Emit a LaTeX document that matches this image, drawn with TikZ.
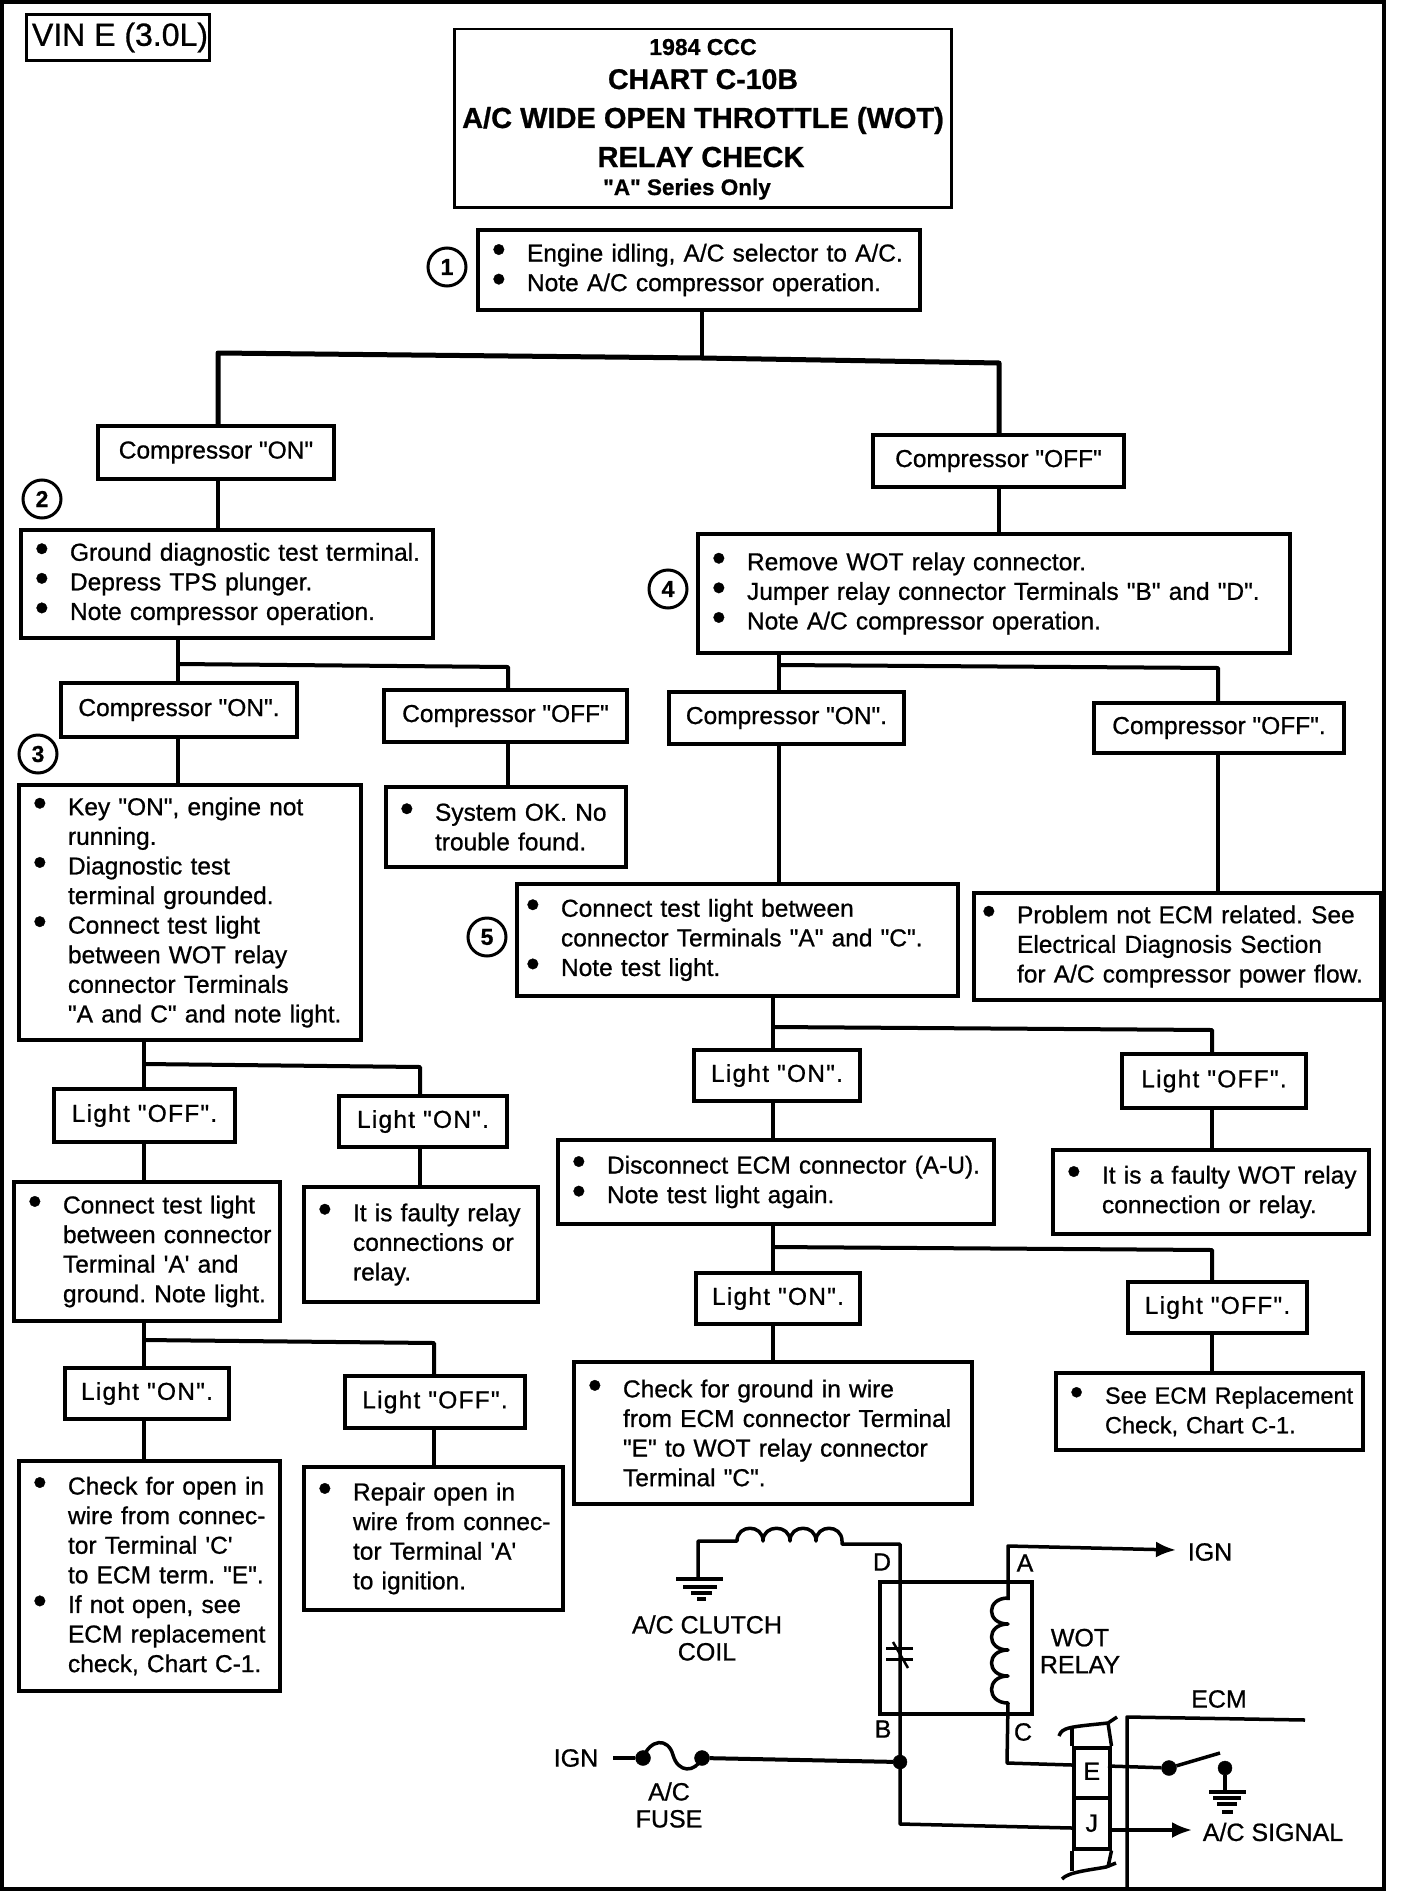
\documentclass[tikz,border=0pt]{standalone}
\usepackage{fontspec}
\setmainfont[FakeBold=0.8,Ligatures=TeXOff]{Liberation Sans}
\usetikzlibrary{arrows.meta}

\newlength{\padl}
\setlength{\padl}{16pt}
\newcommand{\bul}{\hspace*{\padl}\makebox[33pt][l]{\hspace*{-2pt}\raisebox{-1pt}{\scalebox{1.6}{\textbullet}}}}
\newcommand{\cont}{\hspace*{\dimexpr\padl+33pt\relax}}

\tikzset{
chartbox/.style={draw,line width=4pt,anchor=north west,inner sep=0pt,align=left,font=\fontsize{24.5}{29.6}\selectfont\frenchspacing},
tagbox/.style={draw,line width=4pt,anchor=north west,inner sep=0pt,align=center,font=\fontsize{24.5}{30}\selectfont},
lighttag/.style={tagbox,font=\fontsize{24.5}{30}\selectfont\addfontfeature{LetterSpace=5}},
marker/.style={draw,circle,line width=3pt,inner sep=0pt,minimum size=38pt,font=\bfseries\fontsize{23}{23}\selectfont},
titleline/.style={anchor=base,inner sep=0pt,font=\bfseries\fontsize{29}{29}\selectfont},
link/.style={line width=4pt,line cap=round,line join=round},
wire/.style={line width=3.5pt,line join=round},
cirtext/.style={inner sep=0pt,align=center,font=\fontsize{25}{27}\selectfont},
dot/.style={draw,fill=black,circle,inner sep=0pt,minimum size=15pt},
cell/.style={draw,line width=3.5pt,anchor=north west,inner sep=0pt,minimum width=36pt,font=\fontsize{25}{25}\selectfont}
}

\begin{document}
\begin{tikzpicture}[x=1pt,y=-1pt]
\useasboundingbox (0,0) rectangle (1408,1900);

% outer frame
\draw[line width=4.5pt] (2,1.5) rectangle (1384,1889);

\node[draw,line width=3pt,anchor=north west,inner sep=0pt,minimum width=183pt,minimum height=46pt,font=\fontsize{32}{32}\selectfont] (vin) at (25,13) {\hspace*{4pt}VIN E (3.0L)};

% title
\node[draw,line width=2.5pt,anchor=north west,inner sep=0pt,minimum width=497pt,minimum height=178pt] (title) at (453,28) {};
\node[titleline,font=\bfseries\fontsize{23}{23}\selectfont] (title1) at (703,55) {1984 CCC};
\node[titleline,font=\bfseries\fontsize{28.5}{29}\selectfont] (title2) at (703,89) {CHART C-10B};
\node[titleline] (title3) at (703,128) {A/C WIDE OPEN THROTTLE (WOT)};
\node[titleline] (title4) at (701,167) {RELAY CHECK};
\node[titleline,font=\bfseries\fontsize{22.5}{23}\selectfont] (title5) at (687,195) {"A" Series Only};

% boxes, top to bottom
\node[chartbox,text width=442pt,minimum height=80pt] (start) at (476,228) {\bul Engine idling, A/C selector to A/C.\\\bul Note A/C compressor operation.};
\node[marker] (m1) at (447,267) {1};

\node[tagbox,minimum width=236pt,minimum height=53pt] (cleft) at (96,424) {Compressor "ON"};
\node[tagbox,minimum width=251pt,minimum height=52pt] (cright) at (871,433) {Compressor "OFF"};

\node[marker] (m2) at (42,499) {2};
\node[chartbox,text width=412pt,minimum height=108pt] (ground) at (19,528) {\bul Ground diagnostic test terminal.\\\bul Depress TPS plunger.\\\bul Note compressor operation.};
\node[marker] (m4) at (668,589) {4};
\node[chartbox,text width=592pt,minimum height=119pt] (jumper) at (696,532) {\bul Remove WOT relay connector.\\\bul Jumper relay connector Terminals "B" and "D".\\\bul Note A/C compressor operation.};

\node[tagbox,minimum width=236pt,minimum height=54pt] (gon) at (59,681) {Compressor "ON".};
\node[tagbox,minimum width=243pt,minimum height=52pt] (goff) at (382,688) {Compressor "OFF"};
\node[tagbox,minimum width=235pt,minimum height=52pt] (jon) at (667,690) {Compressor "ON".};
\node[tagbox,minimum width=250pt,minimum height=50pt] (joff) at (1092,701) {Compressor "OFF".};

\node[marker] (m3) at (38,754) {3};
\node[chartbox,text width=342pt,minimum height=255pt] (key) at (17,783) {\bul Key "ON", engine not\\\cont running.\\\bul Diagnostic test\\\cont terminal grounded.\\\bul Connect test light\\\cont between WOT relay\\\cont connector Terminals\\\cont "A and C" and note light.};
\node[chartbox,text width=240pt,minimum height=80pt] (sysok) at (384,785) {\bul System OK. No\\\cont trouble found.};

\node[marker] (m5) at (487,937) {5};
\node[chartbox,text width=441pt,minimum height=112pt] (testlight) at (515,882) {\setlength{\padl}{11pt}\bul Connect test light between\\\cont connector Terminals "A" and "C".\\\bul Note test light.};
\node[chartbox,text width=407pt,minimum height=107pt] (notecm) at (972,891) {\setlength{\padl}{10pt}\bul Problem not ECM related. See\\\cont Electrical Diagnosis Section\\\cont for A/C compressor power flow.};

\node[lighttag,minimum width=166pt,minimum height=51pt] (ton) at (692,1048) {Light "ON".};
\node[lighttag,minimum width=184pt,minimum height=54pt] (toff) at (1120,1052) {Light "OFF".};
\node[lighttag,minimum width=181pt,minimum height=53pt] (koff) at (52,1087) {Light "OFF".};
\node[lighttag,minimum width=168pt,minimum height=51pt] (kon) at (337,1094) {Light "ON".};

\node[chartbox,text width=436pt,minimum height=84pt] (disc) at (556,1138) {\bul Disconnect ECM connector (A-U).\\\bul Note test light again.};
\node[chartbox,text width=316pt,minimum height=84pt] (faultywot) at (1051,1148) {\bul It is a faulty WOT relay\\\cont connection or relay.};
\node[chartbox,text width=266pt,minimum height=139pt] (conn) at (12,1180) {\bul Connect test light\\\cont between connector\\\cont Terminal 'A' and\\\cont ground. Note light.};
\node[chartbox,text width=234pt,minimum height=115pt] (faulty) at (302,1185) {\bul It is faulty relay\\\cont connections or\\\cont relay.};

\node[lighttag,minimum width=164pt,minimum height=51pt] (don) at (694,1271) {Light "ON".};
\node[lighttag,minimum width=179pt,minimum height=51pt] (doff) at (1126,1280) {Light "OFF".};
\node[lighttag,minimum width=164pt,minimum height=51pt] (con) at (63,1366) {Light "ON".};
\node[lighttag,minimum width=180pt,minimum height=52pt] (coff) at (343,1374) {Light "OFF".};

\node[chartbox,text width=398pt,minimum height=142pt] (gwire) at (572,1360) {\bul Check for ground in wire\\\cont from ECM connector Terminal\\\cont "E" to WOT relay connector\\\cont Terminal "C".};
\node[chartbox,text width=307pt,minimum height=77pt,font=\fontsize{23.5}{29.6}\selectfont] (replace) at (1054,1371) {\bul See ECM Replacement\\\cont Check, Chart C-1.};
\node[chartbox,text width=261pt,minimum height=230pt] (openw) at (17,1459) {\bul Check for open in\\\cont wire from connec-\\\cont tor Terminal 'C'\\\cont to ECM term. "E".\\\bul If not open, see\\\cont ECM replacement\\\cont check, Chart C-1.};
\node[chartbox,text width=259pt,minimum height=143pt] (repair) at (302,1465) {\bul Repair open in\\\cont wire from connec-\\\cont tor Terminal 'A'\\\cont to ignition.};

% junctions of the chart
\coordinate (j1) at (702,358);
\coordinate (j1l) at (218,353);
\coordinate (j1r) at (999,363);
\coordinate (j2) at (178,664);
\coordinate (j2r) at (508,667);
\coordinate (j3) at (144,1064);
\coordinate (j3r) at (420,1067);
\coordinate (j4) at (779,665);
\coordinate (j4r) at (1218,668);
\coordinate (j5) at (773,1027);
\coordinate (j5r) at (1212,1030);
\coordinate (j6) at (773,1247);
\coordinate (j6r) at (1212,1250);
\coordinate (j7) at (144,1340);
\coordinate (j7r) at (434,1343);

\draw[link] (j1 |- start.south) -- (j1);
\draw[link,line width=5pt] (j1l |- cleft.north) -- (j1l) -- (j1) -- (j1r) -- (j1r |- cright.north);
\draw[link] (j1l |- cleft.south) -- (j1l |- ground.north);
\draw[link] (j1r |- cright.south) -- (j1r |- jumper.north);

\draw[link] (j2 |- ground.south) -- (j2 |- gon.north);
\draw[link] (j2) -- (j2r) -- (j2r |- goff.north);
\draw[link] (j2 |- gon.south) -- (j2 |- key.north);
\draw[link] (j2r |- goff.south) -- (j2r |- sysok.north);

\draw[link] (j4 |- jumper.south) -- (j4 |- jon.north);
\draw[link] (j4) -- (j4r) -- (j4r |- joff.north);
\draw[link] (j4 |- jon.south) -- (j4 |- testlight.north);
\draw[link] (j4r |- joff.south) -- (j4r |- notecm.north);

\draw[link] (j3 |- key.south) -- (j3 |- koff.north);
\draw[link] (j3) -- (j3r) -- (j3r |- kon.north);
\draw[link] (j3 |- koff.south) -- (j3 |- conn.north);
\draw[link] (j3r |- kon.south) -- (j3r |- faulty.north);

\draw[link] (j5 |- testlight.south) -- (j5 |- ton.north);
\draw[link] (j5) -- (j5r) -- (j5r |- toff.north);
\draw[link] (j5 |- ton.south) -- (j5 |- disc.north);
\draw[link] (j5r |- toff.south) -- (j5r |- faultywot.north);

\draw[link] (j6 |- disc.south) -- (j6 |- don.north);
\draw[link] (j6) -- (j6r) -- (j6r |- doff.north);
\draw[link] (j6 |- don.south) -- (j6 |- gwire.north);
\draw[link] (j6r |- doff.south) -- (j6r |- replace.north);

\draw[link] (j7 |- conn.south) -- (j7 |- con.north);
\draw[link] (j7) -- (j7r) -- (j7r |- coff.north);
\draw[link] (j7 |- con.south) -- (j7 |- openw.north);
\draw[link] (j7r |- coff.south) -- (j7r |- repair.north);

% circuit
\node[draw,line width=3.5pt,anchor=north west,inner sep=0pt,minimum width=152pt,minimum height=132pt] (relay) at (878,1580) {};
\node[cell,minimum height=50pt] (E) at (1072,1746) {\raisebox{3pt}{E}};
\node[cell,minimum height=51pt] (J) at (1072,1796) {J};
\node[dot,minimum size=14pt] (bjoint) at (900,1762) {};
\node[dot] (fuse1) at (643,1758) {};
\node[dot] (fuse2) at (702,1758) {};
\node[dot] (sw1) at (1169,1768) {};
\node[dot,minimum size=14pt] (sw2) at (1225,1768) {};

\node[cirtext] (clutch) at (707,1638) {A/C CLUTCH\\COIL};
\node[cirtext] (wot) at (1080,1651) {WOT\\RELAY};
\node[cirtext] (fuselabel) at (669,1805) {A/C\\FUSE};
\node[cirtext] (ignl) at (576,1758) {IGN};
\node[cirtext] (ignr) at (1210,1552) {IGN};
\node[cirtext] (ecm) at (1219,1699) {ECM};
\node[cirtext] (signal) at (1273,1832) {A/C SIGNAL};
\node[cirtext] (pd) at (882,1562) {D};
\node[cirtext] (pb) at (883,1729) {B};
\node[cirtext] (pa) at (1025,1563) {A};
\node[cirtext] (pc) at (1023,1732) {C};

% coil to ground and contact
\draw[wire] (698,1579) -- (698,1541) -- (737,1541)
.. controls (737,1524) and (763,1524) .. (763,1541)
.. controls (763,1524) and (790,1524) .. (790,1541)
.. controls (790,1524) and (816,1524) .. (816,1541)
.. controls (816,1524) and (842,1524) .. (842,1541)
-- (842,1544) -- (900,1544) -- (bjoint.center);
\draw[line width=3.5pt] (676,1579) -- (723,1579);
\draw[line width=3.5pt] (683,1587) -- (717,1587);
\draw[line width=3.5pt] (691,1593) -- (712,1593);
\draw[line width=3.5pt] (697,1599) -- (706,1599);

% contact symbol
\draw[line width=3pt] (886,1648) -- (913,1648);
\draw[line width=3pt] (886,1659) -- (913,1659);
\draw[line width=2.5pt] (893,1642) -- (908,1668);

% relay coil
\coordinate (ignend) at (1176,1550);
\draw[wire,-{Latex[length=20pt,width=16pt]}] (1008,1600) -- (1008,1546) -- (ignend);
\draw[wire] (1008,1598)
.. controls (986,1598) and (986,1624) .. (1008,1624)
.. controls (986,1624) and (986,1650) .. (1008,1650)
.. controls (986,1650) and (986,1676) .. (1008,1676)
.. controls (986,1676) and (986,1703) .. (1008,1703)
-- (1007,1763) coordinate (cturn) -- (1072,1765) coordinate (ein);

% fuse
\coordinate (ignstart) at (613,1758);
\draw[wire] (ignstart) -- (fuse1);
\draw[wire] (fuse1.center) .. controls (650,1739) and (668,1737) .. (673,1755) .. controls (678,1773) and (695,1773) .. (fuse2.center);
\draw[line width=4pt] (fuse2) -- (bjoint);
\coordinate (jin) at (1072,1828);
\draw[wire] (bjoint.center) -- (900,1824) -- (jin);

% connector strip
\draw[wire] (E.north west) -- (1072,1727);
\draw[wire] (E.north east) -- (1108,1723);
\draw[wire] (J.south west) -- (1072,1871);
\draw[wire] (J.south east) -- (1108,1867);
\draw[wire] (1059,1736) .. controls (1062,1727) and (1070,1727) .. (1108,1723) -- (1117,1717);
\draw[wire] (1062,1879) .. controls (1068,1872) and (1090,1870) .. (1106,1867) -- (1116,1863);

% ECM side
\coordinate (ecmend) at (1305,1720);
\draw[wire] (1127,1887) -- (1127,1717) -- (ecmend);
\coordinate (eout) at (1108,1766);
\draw[wire] (eout) -- (sw1);
\coordinate (swend) at (1220,1753);
\draw[wire] (sw1) -- (swend);
\draw[wire] (sw2) -- (1225,1792);
\draw[line width=3.5pt] (1209,1792) -- (1246,1792);
\draw[line width=3.5pt] (1213,1798) -- (1241,1798);
\draw[line width=3.5pt] (1217,1804) -- (1237,1804);
\draw[line width=3.5pt] (1222,1812) -- (1233,1812);
\coordinate (jout) at (1108,1830);
\coordinate (sigend) at (1192,1830);
\draw[wire,-{Latex[length=20pt,width=16pt]}] (jout) -- (sigend);

\end{tikzpicture}
\end{document}
